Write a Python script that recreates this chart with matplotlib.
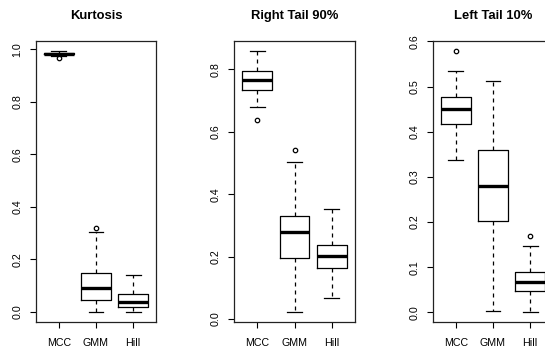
import matplotlib
matplotlib.use("Agg")
import matplotlib.pyplot as plt

plt.rcParams['font.family'] = ['Liberation Sans', 'DejaVu Sans']

methods = ["MCC", "GMM", "Hill"]
titles = ["Kurtosis", "Right Tail 90%", "Left Tail 10%"]

# stats per panel: [whislo, q1, med, q3, whishi], outliers
kurt_stats = [[0.975, 0.981, 0.984, 0.988, 0.994], [0.0, 0.046, 0.090, 0.150, 0.306], [0.0, 0.018, 0.037, 0.069, 0.141]]
kurt_out = [[0.969], [0.318], []]
right_stats = [[0.680, 0.734, 0.766, 0.795, 0.859], [0.022, 0.195, 0.277, 0.331, 0.504], [0.066, 0.162, 0.203, 0.237, 0.353]]
right_out = [[0.638], [0.542], []]
left_stats = [[0.337, 0.418, 0.450, 0.477, 0.534], [0.003, 0.202, 0.280, 0.360, 0.512], [0.001, 0.047, 0.066, 0.089, 0.147]]
left_out = [[0.579], [], [0.168]]

yticks = [[0.0, 0.2, 0.4, 0.6, 0.8, 1.0], [0.0, 0.2, 0.4, 0.6, 0.8], [0.0, 0.1, 0.2, 0.3, 0.4, 0.5, 0.6]]
ylims = [(-0.038, 1.033), (-0.010, 0.892), (-0.0215, 0.6015)]

W, H = 545, 349
fig = plt.figure(figsize=(W / 100, H / 100), dpi=100)

lefts = [35.7, 234.3, 432.7]
ax_w = 120.5
top_px, bot_px = 40.7, 322.0

panels = [(kurt_stats, kurt_out), (right_stats, right_out), (left_stats, left_out)]
for i, (stats, outs) in enumerate(panels):
    ax = fig.add_axes([lefts[i] / W, (H - bot_px) / H, ax_w / W, (bot_px - top_px) / H])
    bxp_stats = []
    for m, s, o in zip(methods, stats, outs):
        bxp_stats.append(dict(label=m, whislo=s[0], q1=s[1], med=s[2], q3=s[3], whishi=s[4], fliers=o))
    ax.bxp(bxp_stats, positions=[1, 2, 3], widths=0.8, showfliers=True,
           boxprops=dict(color='black', linewidth=0.9),
           medianprops=dict(color='black', linewidth=2.4, solid_capstyle='butt'),
           whiskerprops=dict(color='black', linewidth=0.9, linestyle=(0, (3.2, 3.2))),
           capprops=dict(color='black', linewidth=0.9),
           capwidths=0.4,
           flierprops=dict(marker='o', markersize=3.2, markerfacecolor='none',
                           markeredgecolor='black', markeredgewidth=0.9))
    ax.set_xlim(0.38, 3.62)
    ax.set_ylim(*ylims[i])
    ax.set_yticks(yticks[i])
    ax.set_yticklabels([f"{v:.1f}" for v in yticks[i]], rotation=90, va='center', fontsize=7.7)
    ax.set_xticks([1, 2, 3])
    ax.set_xticklabels(methods, fontsize=7.7)
    ax.tick_params(direction='out', length=4.5, width=0.8, colors='black')
    ax.tick_params(axis='x', pad=7)
    ax.tick_params(axis='y', pad=5)
    for sp in ax.spines.values():
        sp.set_linewidth(0.9)
        sp.set_color('#222222')
    ax.set_title(titles[i], fontsize=9.4, fontweight='bold', pad=0,
                 y=1.0 + 22 / (bot_px - top_px), va='baseline')

fig.savefig("out.png", dpi=100)
